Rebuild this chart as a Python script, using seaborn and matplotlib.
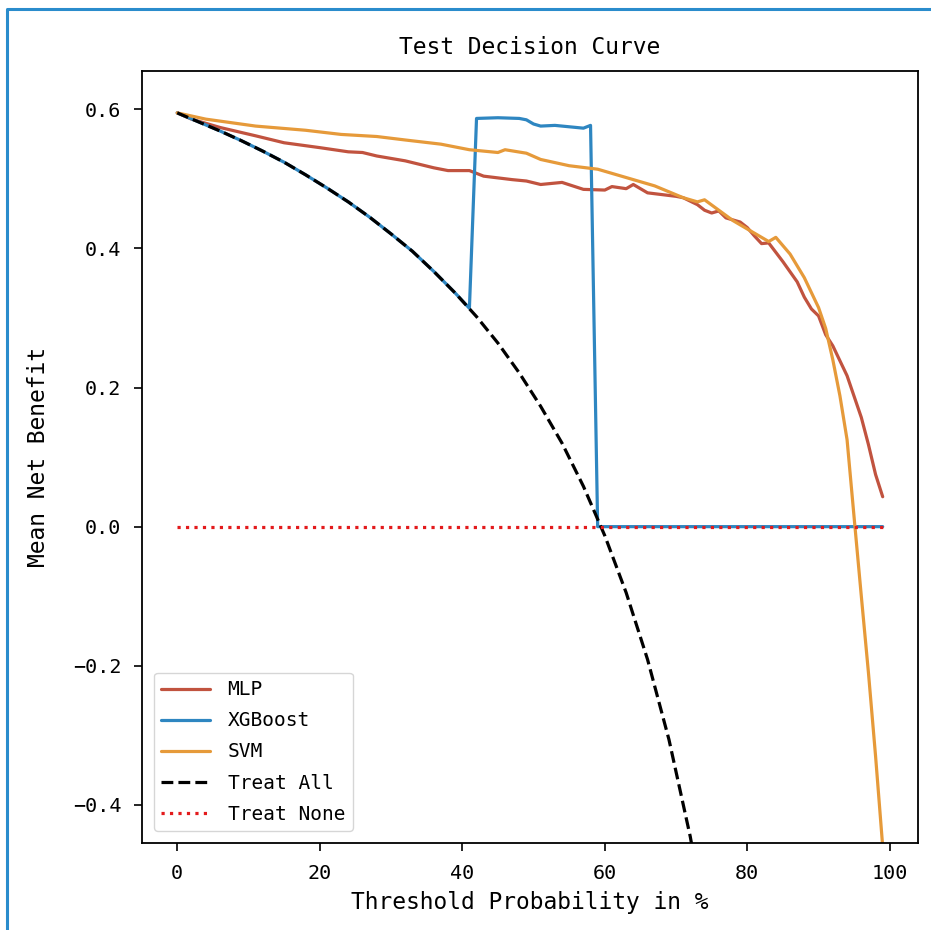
import matplotlib
matplotlib.use("Agg")
import matplotlib.pyplot as plt
from matplotlib.lines import Line2D
import seaborn as sns

sns.set_theme(style="ticks")
plt.rcParams["font.family"] = ["DejaVu Sans Mono", "DejaVu Sans"]
plt.rcParams["axes.edgecolor"] = "black"
plt.rcParams["axes.linewidth"] = 1.3
plt.rcParams["text.color"] = "black"
plt.rcParams["axes.labelcolor"] = "black"

## DATA
# threshold probability in %, mean net benefit
mlp_x = [0, 2, 6, 11, 15, 20, 24, 26, 28, 32, 36, 38, 41, 43, 47, 49, 51, 54, 57, 60,
         61, 63, 64, 66, 70, 71, 73, 74, 75, 76, 77, 79, 80, 81, 82, 83, 85, 87, 88, 89,
         90, 91, 92, 94, 96, 97, 98, 99]
mlp_y = [0.595, 0.586, 0.574, 0.562, 0.552, 0.545, 0.539, 0.538, 0.533, 0.526, 0.516, 0.512,
         0.512, 0.504, 0.499, 0.497, 0.492, 0.495, 0.485, 0.484, 0.489, 0.486, 0.492, 0.480,
         0.475, 0.473, 0.463, 0.455, 0.451, 0.454, 0.444, 0.438, 0.430, 0.418, 0.407, 0.408,
         0.381, 0.352, 0.330, 0.313, 0.303, 0.276, 0.260, 0.217, 0.157, 0.118, 0.075, 0.043]

xgb_x = [0, 3, 6, 9, 12, 15, 18, 21, 24, 27, 30, 33, 36, 39, 41, 42, 45, 48, 49, 50,
         51, 53, 55, 56, 57, 58, 59, 99]
xgb_y = [0.595, 0.582, 0.569, 0.555, 0.540, 0.524, 0.506, 0.487, 0.467, 0.445, 0.421, 0.396,
         0.367, 0.336, 0.314, 0.587, 0.588, 0.587, 0.585, 0.579, 0.576, 0.577, 0.575, 0.574,
         0.573, 0.577, 0.0, 0.0]

svm_x = [0, 4, 11, 18, 23, 28, 32, 37, 41, 45, 46, 49, 51, 55, 59, 64, 67, 71, 73, 74,
         76, 78, 81, 83, 84, 86, 88, 90, 91, 92, 93, 94, 95, 96, 97, 98, 99]
svm_y = [0.595, 0.586, 0.576, 0.570, 0.564, 0.561, 0.556, 0.550, 0.542, 0.538, 0.542, 0.537,
         0.528, 0.519, 0.514, 0.499, 0.490, 0.473, 0.467, 0.470, 0.455, 0.440, 0.422, 0.410,
         0.416, 0.392, 0.358, 0.315, 0.285, 0.240, 0.188, 0.125, 0.012, -0.100, -0.210,
         -0.330, -0.460]

all_x = [0, 3, 6, 9, 12, 15, 18, 21, 24, 27, 30, 33, 36, 39, 42, 45, 48, 51, 54, 57,
         60, 63, 66, 69, 72, 75]
all_y = [0.595, 0.582, 0.569, 0.555, 0.540, 0.524, 0.506, 0.487, 0.467, 0.445, 0.421, 0.396,
         0.367, 0.336, 0.302, 0.264, 0.221, 0.173, 0.120, 0.058, -0.013, -0.095, -0.191,
         -0.306, -0.446, -0.620]

none_x = [0, 99]
none_y = [0.0, 0.0]

fig = plt.figure(figsize=(9.31, 9.30), dpi=100)
ax = fig.add_axes([0.1525, 0.0935, 0.8335, 0.830])

sns.lineplot(x=mlp_x, y=mlp_y, ax=ax, label="MLP", color="#c1533f", linewidth=2.3)
sns.lineplot(x=xgb_x, y=xgb_y, ax=ax, label="XGBoost", color="#2e86c1", linewidth=2.3)
sns.lineplot(x=svm_x, y=svm_y, ax=ax, label="SVM", color="#e69a3a", linewidth=2.3)
sns.lineplot(x=all_x, y=all_y, ax=ax, label="Treat All", color="black", linewidth=2.3,
             linestyle="--")
sns.lineplot(x=none_x, y=none_y, ax=ax, label="Treat None", color="#e31a1c", linewidth=2.3,
             linestyle=":")

ax.set_xlim(-4.95, 103.95)
ax.set_ylim(-0.455, 0.655)
ax.set_xticks([0, 20, 40, 60, 80, 100])
ax.set_yticks([-0.4, -0.2, 0.0, 0.2, 0.4, 0.6])
ax.tick_params(labelsize=14.5, length=6, width=1.2, colors="black", pad=9)
ax.set_title("Test Decision Curve", fontsize=16.5, pad=12)
ax.set_xlabel("Threshold Probability in %", fontsize=16.5, labelpad=6)
ax.set_ylabel("Mean Net Benefit", fontsize=16.5, labelpad=16)
ax.legend(loc="lower left", fontsize=14, handlelength=2.5, handletextpad=0.9,
          labelspacing=0.62, borderaxespad=0.6)

# blue frame around the picture
fig.add_artist(Line2D([7 / 931, 7 / 931, 1.0], [0.0, 1 - 9 / 930, 1 - 9 / 930],
                      transform=fig.transFigure, color="#2a8ccc", linewidth=2.2))

fig.savefig("out.png", dpi=100)
